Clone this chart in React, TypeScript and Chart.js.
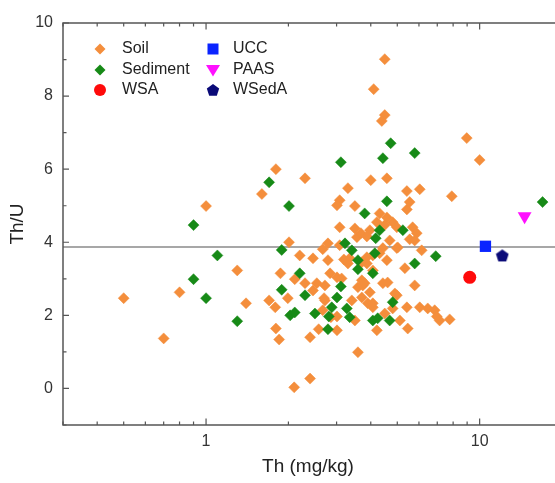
import React, { useEffect, useRef } from 'react';
import { Chart, registerables } from 'chart.js';

Chart.register(...registerables);

// ---- Data ----
const soilTh = [
  0.50, 0.70, 0.80, 1.00, 1.30, 1.40, 1.60, 1.80, 1.70, 1.79, 1.80, 1.85, 1.87, 2.01, 2.20, 2.11, 1.99,
  2.40, 2.30, 2.72, 2.58, 3.01, 3.01, 2.72, 2.54, 2.46, 2.79, 2.79, 2.84, 3.01, 3.13, 3.35, 3.30, 3.41,
  3.50, 3.59, 3.59, 3.74, 3.97, 3.90, 4.07, 4.21, 4.07, 4.43, 4.61, 4.50, 4.81, 4.98, 5.11, 5.46, 5.42,
  5.79, 5.33, 6.04, 6.46, 6.85, 7.14, 7.77, 6.97, 6.14, 3.87, 3.56, 4.07, 4.43, 4.58, 4.98, 3.87, 3.71,
  2.40, 2.10, 4.50, 4.10, 4.50, 4.39, 8.97, 10.0, 4.00, 4.58, 3.30, 5.42, 6.04, 7.91, 3.08, 3.01, 3.50,
  5.55, 5.42, 4.31, 3.08, 3.50, 4.21, 4.58, 4.81, 4.98, 5.69, 5.89, 3.97, 3.08, 4.69, 5.55, 2.67, 3.19,
  2.30, 2.46, 2.70, 2.86, 2.67, 3.68, 3.87, 4.50, 5.79, 5.02, 4.31, 3.71, 3.80, 4.90, 3.71, 4.07,
];
const soilThU = [
  2.47, 1.37, 2.63, 4.99, 3.23, 2.33, 5.32, 6.00, 2.41, 2.22, 1.64, 1.34, 3.15, 4.00, 3.64, 2.99, 2.47,
  1.40, 5.75, 2.41, 1.62, 1.97, 1.59, 2.82, 2.88, 3.56, 3.51, 3.97, 3.15, 3.04, 3.01, 3.56, 3.42, 2.41,
  1.86, 0.99, 2.77, 2.82, 2.63, 2.33, 2.22, 1.59, 3.23, 2.88, 2.90, 2.05, 2.19, 2.55, 1.86, 1.64, 2.22,
  2.82, 3.29, 2.22, 2.19, 2.14, 1.86, 1.89, 1.97, 3.78, 3.59, 4.14, 3.64, 3.84, 3.51, 3.84, 3.42, 2.96,
  0.27, 0.03, 9.01, 8.19, 7.48, 7.32, 6.85, 6.25, 5.70, 5.75, 5.48, 5.40, 5.45, 5.26, 5.15, 5.01, 4.99,
  5.10, 4.90, 4.79, 4.41, 4.38, 4.55, 4.68, 4.55, 4.41, 4.41, 4.25, 4.33, 3.92, 4.05, 4.08, 3.81, 3.53,
  2.88, 2.68, 2.47, 1.95, 2.14, 4.25, 4.16, 4.47, 4.05, 3.86, 3.70, 3.45, 2.88, 2.60, 2.49, 2.33,
];

const sedTh = [
  0.90, 1.10, 0.90, 1.00, 1.30, 1.70, 2.01, 1.89, 1.89, 2.20, 2.30, 2.03, 2.11, 2.50, 2.79, 2.81, 2.88,
  3.01, 3.11, 3.22, 3.41, 3.59, 3.59, 3.27, 3.35, 4.07, 4.24, 4.07, 4.69, 4.81, 5.79, 6.91, 4.14, 16.98,
  4.73, 5.79, 4.43, 3.11, 4.58, 3.80, 5.24, 4.31, 4.17,
];
const sedThU = [
  4.47, 3.64, 2.99, 2.47, 1.84, 5.64, 4.99, 3.79, 2.70, 3.15, 2.55, 2.00, 2.08, 2.05, 1.62, 1.97, 2.22,
  2.49, 2.79, 3.97, 3.78, 3.51, 3.26, 2.19, 1.95, 1.86, 1.92, 3.15, 1.86, 2.36, 3.42, 3.62, 3.70, 5.10,
  6.71, 6.44, 6.30, 6.19, 5.12, 4.79, 4.33, 4.33, 4.11,
];

const refNames = ['UCC', 'PAAS', 'WSA', 'WSedA'];
const refTh = [10.5, 14.6, 9.2, 12.1];
const refThU = [3.89, 4.71, 3.04, 3.64];

const uccLine = 3.87;
const xLabelValues = [1, 10];
const xRange = [0.3, 20];
const yRange = [-1, 10];

// ---- Styles ----
const SOIL = '#F48E3C';
const SED = '#178A17';
const RED = '#FF0A0A';
const BLUE = '#0A24FF';
const MAGENTA = '#FF10FF';
const NAVY = '#0A0A78';
const FONT = 'Arial, "Liberation Sans", sans-serif';
const AXIS = '#555';

function pentPath(ctx: CanvasRenderingContext2D, cx: number, cy: number, r: number) {
  ctx.beginPath();
  for (let i = 0; i < 5; i++) {
    const a = -Math.PI / 2 + (i * 2 * Math.PI) / 5;
    const px = cx + r * Math.cos(a);
    const py = cy + r * Math.sin(a);
    if (i === 0) ctx.moveTo(px, py);
    else ctx.lineTo(px, py);
  }
  ctx.closePath();
}

function makePentagon(size: number, color: string) {
  const c = document.createElement('canvas');
  c.width = size;
  c.height = size;
  const ctx = c.getContext('2d')!;
  ctx.fillStyle = color;
  pentPath(ctx, size / 2, size / 2 + 0.6, size / 2 - 0.3);
  ctx.fill();
  return c;
}

const toPts = (xs: number[], ys: number[]) => xs.map((x, i) => ({ x, y: ys[i] }));

const overlayPlugin = {
  id: 'overlay',
  beforeDatasetsDraw(chart: any) {
    const { ctx, chartArea, scales } = chart;
    const y = scales.y.getPixelForValue(uccLine);
    ctx.save();
    ctx.strokeStyle = '#8a8a8a';
    ctx.lineWidth = 1.5;
    ctx.beginPath();
    ctx.moveTo(chartArea.left, y);
    ctx.lineTo(chartArea.right, y);
    ctx.stroke();
    ctx.restore();
  },
  afterDraw(chart: any) {
    const { ctx, chartArea, scales } = chart;
    const { left, right, top, bottom } = chartArea;
    ctx.save();
    // frame
    ctx.strokeStyle = AXIS;
    ctx.lineWidth = 1.5;
    ctx.strokeRect(left, top, right - left, bottom - top);
    ctx.lineWidth = 1.2;
    // x ticks
    const xt: number[] = [];
    for (let d = -1; d <= 1; d++) {
      for (let m = 1; m <= 9; m++) {
        const v = m * Math.pow(10, d);
        if (v >= xRange[0] - 1e-9 && v <= xRange[1] + 1e-9) xt.push(v);
      }
    }
    xt.forEach((v) => {
      const px = scales.x.getPixelForValue(v);
      const major = Math.abs(Math.log10(v) - Math.round(Math.log10(v))) < 1e-6;
      const len = major ? 6.5 : 3.5;
      ctx.beginPath();
      ctx.moveTo(px, bottom);
      ctx.lineTo(px, bottom - len);
      ctx.moveTo(px, top);
      ctx.lineTo(px, top + len);
      ctx.stroke();
    });
    // y ticks
    for (let v = yRange[0]; v <= yRange[1]; v++) {
      const py = scales.y.getPixelForValue(v);
      const len = v % 2 === 0 ? 6 : 3.5;
      ctx.beginPath();
      ctx.moveTo(left, py);
      ctx.lineTo(left + len, py);
      ctx.moveTo(right, py);
      ctx.lineTo(right - len, py);
      ctx.stroke();
    }
    // axis titles
    ctx.fillStyle = '#222';
    ctx.font = `19px ${FONT}`;
    ctx.textAlign = 'center';
    ctx.textBaseline = 'middle';
    ctx.fillText('Th (mg/kg)', 308, 467);
    ctx.save();
    ctx.translate(18, (top + bottom) / 2);
    ctx.rotate(-Math.PI / 2);
    ctx.fillText('Th/U', 0, 0);
    ctx.restore();

    // legend
    const rows = [49, 70, 90];
    const c1 = 100;
    const c2 = 213;
    const t1 = 122;
    const t2 = 233;
    // Soil diamond
    const diamond = (x: number, y: number, r: number, col: string) => {
      ctx.fillStyle = col;
      ctx.beginPath();
      ctx.moveTo(x, y - r);
      ctx.lineTo(x + r, y);
      ctx.lineTo(x, y + r);
      ctx.lineTo(x - r, y);
      ctx.closePath();
      ctx.fill();
    };
    diamond(c1, rows[0], 5.5, SOIL);
    diamond(c1, rows[1], 5.5, SED);
    ctx.fillStyle = RED;
    ctx.beginPath();
    ctx.arc(c1, rows[2], 6, 0, Math.PI * 2);
    ctx.fill();
    ctx.fillStyle = BLUE;
    ctx.fillRect(c2 - 5.5, rows[0] - 5.5, 11, 11);
    ctx.fillStyle = MAGENTA;
    ctx.beginPath();
    ctx.moveTo(c2 - 7, rows[1] - 5);
    ctx.lineTo(c2 + 7, rows[1] - 5);
    ctx.lineTo(c2, rows[1] + 6.5);
    ctx.closePath();
    ctx.fill();
    ctx.fillStyle = NAVY;
    pentPath(ctx, c2, rows[2] + 0.6, 6.5);
    ctx.fill();

    ctx.fillStyle = '#222';
    ctx.font = `16px ${FONT}`;
    ctx.textAlign = 'left';
    ctx.textBaseline = 'middle';
    ctx.fillText('Soil', t1, rows[0]);
    ctx.fillText('Sediment', t1, rows[1]);
    ctx.fillText('WSA', t1, rows[2]);
    ctx.fillText(refNames[0], t2, rows[0]);
    ctx.fillText(refNames[1], t2, rows[1]);
    ctx.fillText(refNames[3], t2, rows[2]);
    ctx.restore();
  },
};

const CW = 570;
const CH = 483;

export default function App() {
  const ref = useRef<HTMLCanvasElement>(null);
  useEffect(() => {
    document.body.style.margin = '0';
    const pent = makePentagon(14, NAVY);
    const chart = new Chart(ref.current!, {
      type: 'scatter',
      data: {
        datasets: [
          {
            label: 'Soil',
            data: toPts(soilTh, soilThU),
            pointStyle: 'rectRot',
            pointRadius: 5.5,
            backgroundColor: SOIL,
            borderColor: SOIL,
            borderWidth: 0.5,
            order: 3,
          },
          {
            label: 'Sediment',
            data: toPts(sedTh, sedThU),
            pointStyle: 'rectRot',
            pointRadius: 5.5,
            backgroundColor: SED,
            borderColor: SED,
            borderWidth: 0.5,
            order: 2,
          },
          {
            label: refNames[0],
            data: [{ x: refTh[0], y: refThU[0] }],
            pointStyle: 'rect',
            pointRadius: 8,
            backgroundColor: BLUE,
            borderColor: BLUE,
            borderWidth: 0,
            order: 1,
          },
          {
            label: refNames[1],
            data: [{ x: refTh[1], y: refThU[1] }],
            pointStyle: 'triangle',
            rotation: 180,
            pointRadius: 8,
            backgroundColor: MAGENTA,
            borderColor: MAGENTA,
            borderWidth: 0,
            order: 1,
          },
          {
            label: refNames[2],
            data: [{ x: refTh[2], y: refThU[2] }],
            pointStyle: 'circle',
            pointRadius: 6.5,
            backgroundColor: RED,
            borderColor: RED,
            borderWidth: 0,
            order: 1,
          },
          {
            label: refNames[3],
            data: [{ x: refTh[3], y: refThU[3] }],
            pointStyle: pent as any,
            pointRadius: 7,
            backgroundColor: NAVY,
            borderColor: NAVY,
            borderWidth: 0,
            order: 1,
          },
        ] as any,
      },
      options: {
        responsive: false,
        animation: false,
        devicePixelRatio: 1,
        layout: { padding: { top: 23, right: CW - 562.5, left: 0, bottom: 0 } },
        plugins: { legend: { display: false }, tooltip: { enabled: false } },
        scales: {
          x: {
            type: 'logarithmic',
            min: xRange[0],
            max: xRange[1],
            grid: { display: false, drawTicks: false },
            border: { display: false },
            ticks: {
              autoSkip: false,
              maxRotation: 0,
              minRotation: 0,
              padding: 7,
              color: '#333',
              font: { size: 16, family: FONT },
              callback: (v: any) => {
                const n = Number(v);
                return xLabelValues.some((l) => Math.abs(l - n) < 1e-6) ? String(Math.round(n)) : '';
              },
            },
            afterFit: (s: any) => {
              s.height = 58;
            },
          },
          y: {
            min: yRange[0],
            max: yRange[1],
            grid: { display: false, drawTicks: false },
            border: { display: false },
            ticks: {
              stepSize: 1,
              padding: 10,
              color: '#333',
              font: { size: 16, family: FONT },
              callback: (v: any) => (Number(v) % 2 === 0 ? String(v) : ''),
            },
            afterFit: (s: any) => {
              s.width = 63;
            },
          },
        },
      } as any,
      plugins: [overlayPlugin],
    });
    return () => chart.destroy();
  }, []);
  return (
    <div style={{ width: 555, height: 483, overflow: 'hidden', position: 'relative', background: '#fff' }}>
      <canvas ref={ref} width={CW} height={CH} style={{ display: 'block' }} />
    </div>
  );
}
